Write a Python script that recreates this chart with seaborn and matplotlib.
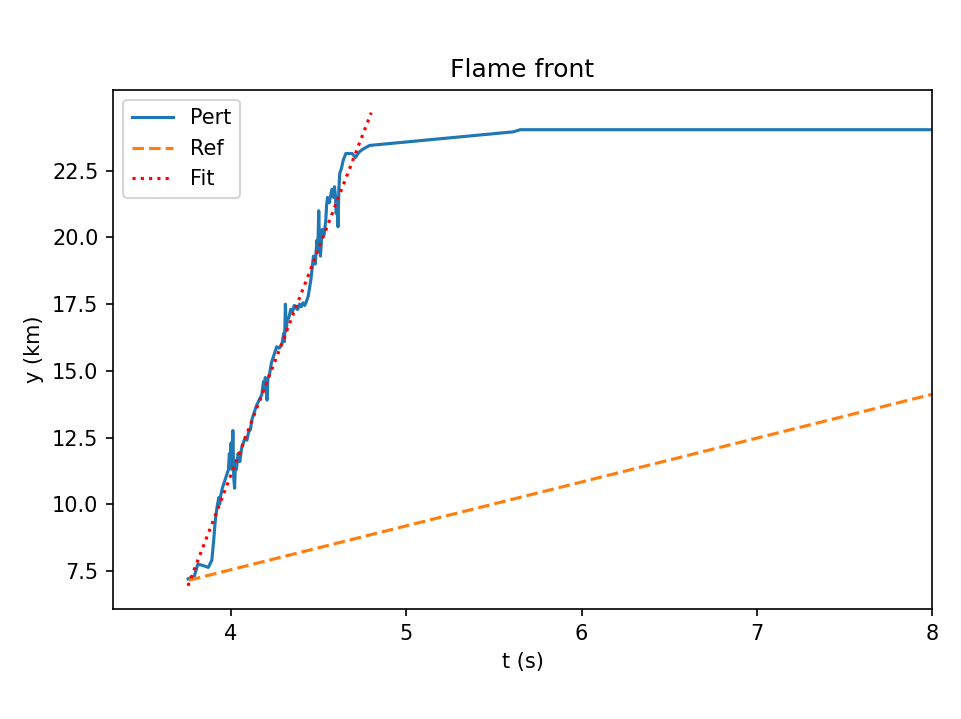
import matplotlib
matplotlib.use("Agg")
import matplotlib.pyplot as plt
import seaborn as sns

# Pert series
pert_t = [3.755, 3.79, 3.81, 3.84, 3.87, 3.89, 3.90, 3.91, 3.92, 3.93, 3.935, 3.94,
          3.95, 3.965, 3.975, 3.985, 3.99, 3.995, 4.00, 4.005, 4.01, 4.015, 4.02,
          4.025, 4.03, 4.04, 4.05, 4.06, 4.07, 4.08, 4.09, 4.10, 4.11, 4.12, 4.13,
          4.145, 4.16, 4.175, 4.185, 4.19, 4.195, 4.20, 4.205, 4.21, 4.22, 4.23,
          4.24, 4.25, 4.26, 4.275, 4.29, 4.30, 4.305, 4.31, 4.315, 4.32, 4.33, 4.34,
          4.35, 4.36, 4.37, 4.38, 4.39, 4.40, 4.41, 4.42, 4.43, 4.44, 4.455, 4.47,
          4.48, 4.49, 4.495, 4.50, 4.505, 4.51, 4.515, 4.52, 4.53, 4.54, 4.545, 4.55,
          4.56, 4.575, 4.585, 4.59, 4.595, 4.60, 4.605, 4.61, 4.615, 4.62, 4.63,
          4.64, 4.655, 4.67, 4.69, 4.71, 4.73, 4.75, 4.79, 5.61, 5.65, 8.0]
pert_y = [7.2, 7.3, 7.75, 7.7, 7.63, 7.9, 8.6, 9.4, 9.9, 10.25, 10.0, 10.3,
          10.6, 10.9, 11.1, 11.3, 11.9, 11.5, 12.3, 11.3, 12.76, 11.0, 10.6,
          11.6, 11.3, 11.9, 11.6, 12.1, 12.3, 12.5, 12.4, 12.7, 12.8, 13.2, 13.4,
          13.7, 13.9, 14.1, 14.6, 14.3, 14.75, 14.5, 13.9, 14.7, 14.9, 15.3,
          15.5, 15.7, 15.9, 15.85, 16.0, 16.4, 16.1, 17.5, 16.5, 16.9, 17.0, 17.3,
          17.2, 17.45, 17.35, 17.3, 17.5, 17.4, 17.55, 17.45, 17.6, 17.8, 18.4, 19.3,
          19.0, 19.9, 19.5, 21.0, 19.6, 19.3, 19.8, 20.3, 20.1, 20.6, 21.2, 21.5,
          21.3, 21.8, 21.5, 21.9, 21.6, 20.9, 21.3, 20.4, 21.8, 22.4, 22.6,
          22.9, 23.15, 23.15, 23.15, 23.0, 23.2, 23.3, 23.45, 23.96, 24.04, 24.04]

# Ref series
ref_t = [3.76, 8.0]
ref_y = [7.15, 14.12]

# Fit series
fit_t = [3.754, 4.80]
fit_y = [6.94, 24.68]

fig = plt.figure(figsize=(961 / 150, 719 / 150), dpi=150)
ax = fig.add_axes([113 / 961, 1 - 609 / 719, (932 - 113) / 961, (609 - 89.7) / 719])

sns.lineplot(x=pert_t, y=pert_y, ax=ax, color="#1f77b4", linewidth=1.5,
             label="Pert", estimator=None, sort=False)
sns.lineplot(x=ref_t, y=ref_y, ax=ax, color="#ff7f0e", linewidth=1.5,
             linestyle="--", label="Ref", estimator=None, sort=False)
sns.lineplot(x=fit_t, y=fit_y, ax=ax, color="red", linewidth=1.5,
             linestyle=":", label="Fit", estimator=None, sort=False)

ax.set_xlim(3.326, 8.0)
ax.set_ylim(6.07, 25.54)
ax.set_xticks([4, 5, 6, 7, 8])
ax.set_yticks([7.5, 10.0, 12.5, 15.0, 17.5, 20.0, 22.5])
ax.set_xlabel("t (s)")
ax.set_ylabel("y (km)")
ax.set_title("Flame front")
ax.legend(loc="upper left")

fig.savefig("out.png", dpi=150)
